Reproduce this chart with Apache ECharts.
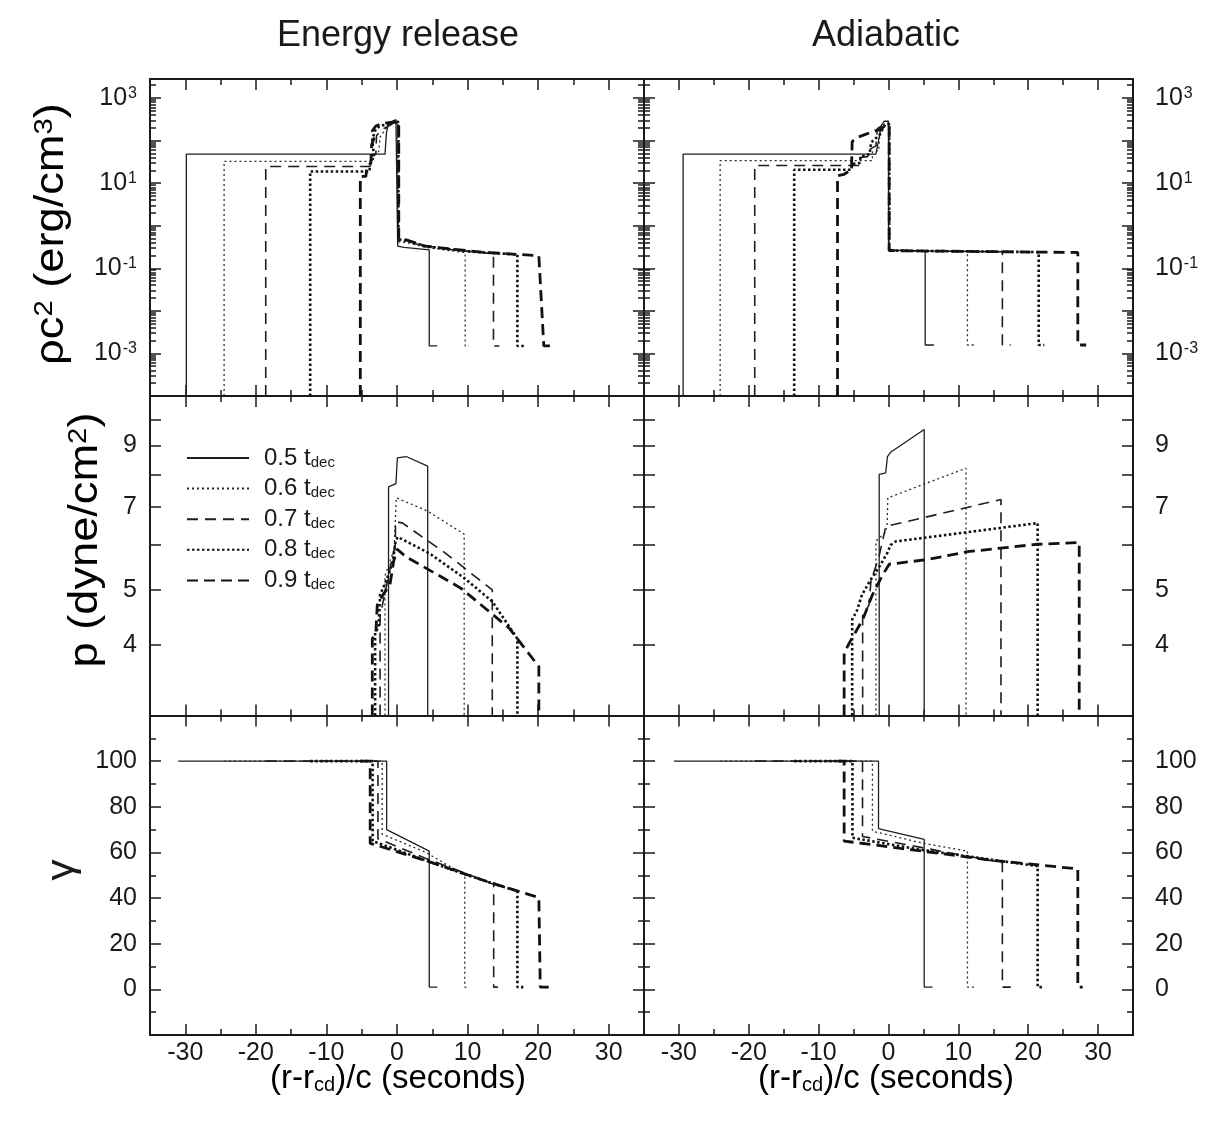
<!DOCTYPE html>
<html lang="en">
<head>
<meta charset="UTF-8">
<title>Energy release / Adiabatic profiles</title>
<script src="https://cdn.jsdelivr.net/npm/echarts@6/dist/echarts.min.js"></script>
<style>html,body{margin:0;padding:0;background:#fff}</style>
</head>
<body>
<div id="main" style="width:1207px;height:1130px"></div>
<script>
// curve names (fraction of t_dec)
var times = ['0.5', '0.6', '0.7', '0.8', '0.9'];

// tick values
var xMajor = [-30, -20, -10, 0, 10, 20, 30];
var xMinor = [-25, -15, -5, 5, 15, 25];
var rhoLabels = [1e-3, 1e-1, 1e1, 1e3];
var rhoMajor = [1e-3, 1e-2, 1e-1, 1, 1e1, 1e2, 1e3];
var pLabels = [4, 5, 7, 9];
var pMajor = [4, 5, 6, 7, 8, 9, 10];
var gammaLabels = [0, 20, 40, 60, 80, 100];
var gammaMinor = [-10, 10, 30, 50, 70, 90, 110];

// rho c^2, energy release  [x (s), erg/cm3]
var rhoEnergy = [
  [[-29.85,1e-4],[-29.85,48],[-1.7,48],[-1.5,150],[-1.2,258],[-0.15,310],[0.1,310],[0.1,0.33],[1,0.31],[4.57,0.27],[4.57,1.5e-3],[5.7,1.5e-3]],
  [[-24.5,1e-4],[-24.5,32.5],[-3.4,32.5],[-3.2,48],[-2.6,55],[-2.4,120],[-1.6,190],[-0.6,270],[0,280],[0.1,0.42],[1.5,0.4],[4,0.31],[9.66,0.234],[9.66,1.5e-3],[10.2,1.5e-3]],
  [[-18.6,1e-4],[-18.6,24.7],[-3.8,24.7],[-3.7,42],[-3.0,48],[-2.9,130],[-2.2,180],[-1.0,230],[-0.3,270],[0.15,270],[0.15,0.45],[1.5,0.44],[3,0.36],[8,0.27],[13.67,0.22],[13.67,1.5e-3],[14.5,1.5e-3]],
  [[-12.3,1e-4],[-12.3,18.8],[-3.9,18.8],[-3.8,30],[-3.3,45],[-3.5,110],[-3.0,190],[-2.4,220],[-1.4,240],[-0.4,275],[0.2,275],[0.2,0.48],[2,0.42],[4,0.33],[10,0.25],[17.06,0.21],[17.06,1.5e-3],[18.2,1.5e-3]],
  [[-5.2,1e-4],[-5.2,14.4],[-4.4,14.4],[-4.3,22],[-3.7,30],[-3.6,80],[-3.2,120],[-3.5,170],[-3.0,220],[-2.2,250],[-0.6,270],[0.25,270],[0.25,0.5],[1.2,0.47],[2.5,0.4],[4,0.33],[12,0.24],[20.1,0.197],[20.8,1.5e-3],[21.7,1.5e-3]]
];
// rho c^2, adiabatic
var rhoAdiabatic = [
  [[-29.4,1e-4],[-29.4,48],[-1.8,48],[-1.0,230],[-0.6,285],[0,285],[0,0.27],[5.25,0.25],[5.25,1.58e-3],[6.5,1.58e-3]],
  [[-24.1,1e-4],[-24.1,34],[-2.3,34],[-2.3,55],[-1.4,58],[-1.2,200],[-0.4,260],[0.05,260],[0.05,0.27],[11.3,0.25],[11.3,1.58e-3],[12.3,1.58e-3]],
  [[-19.15,1e-4],[-19.15,26],[-4.1,26],[-4.1,40],[-3.0,42],[-2.9,60],[-1.8,75],[-1.6,190],[-0.5,250],[0.05,250],[0.05,0.26],[16.3,0.245],[16.3,1.58e-3],[17.5,1.58e-3]],
  [[-13.5,1e-4],[-13.5,20.6],[-5.3,20.6],[-5.2,28],[-4.1,30],[-4,42],[-2.7,48],[-2.5,90],[-1.2,140],[-0.5,240],[0.1,240],[0.1,0.26],[21.5,0.24],[21.5,1.58e-3],[22.3,1.58e-3]],
  [[-7.3,1e-4],[-7.3,15],[-6.4,16],[-5.3,21],[-5.2,95],[-4.4,120],[-3.3,140],[-2.2,165],[-1.2,180],[-0.4,230],[0.1,230],[0.1,0.26],[27.1,0.235],[27.1,1.58e-3],[28.3,1.58e-3]]
];
// pressure, energy release  [x, dyne/cm2]
var pEnergy = [
  [[-1.2,3],[-1.2,7.6],[-0.15,7.7],[0.05,8.55],[1.3,8.6],[4.35,8.27],[4.35,3]],
  [[-1.7,3],[-1.7,5.3],[-0.4,5.9],[-0.1,7.27],[4.33,6.89],[9.52,6.27],[9.52,3]],
  [[-2.4,3],[-2.4,4.5],[-1.6,5.0],[-0.8,5.6],[-0.25,6.0],[-0.2,6.6],[0.8,6.56],[6.9,5.8],[13.5,5.0],[13.5,3]],
  [[-3.1,3],[-3.1,4.2],[-2.6,4.3],[-2.4,4.9],[-1.5,5.2],[-0.6,5.6],[-0.2,6.1],[0.1,6.2],[4.6,5.8],[9.5,5.25],[13.5,4.77],[17.06,4.1],[17.06,3]],
  [[-3.5,3],[-3.5,4.1],[-3.0,4.2],[-2.8,4.7],[-2.0,4.9],[-1.0,5.1],[-0.5,5.6],[0,5.9],[1.3,5.72],[9,5.04],[15.9,4.28],[20.1,3.66],[20.1,3]]
];
// pressure, adiabatic
var pAdiabatic = [
  [[-1.33,3],[-1.33,8.0],[-0.4,8.05],[-0.15,8.6],[0.3,8.75],[5.11,9.6],[5.11,3]],
  [[-1.8,3],[-1.8,6.1],[-0.5,6.3],[-0.2,6.5],[-0.1,7.27],[11.1,8.2],[11.1,3]],
  [[-3.7,3],[-3.7,4.5],[-2.8,4.7],[-2.5,5.2],[-1.4,5.7],[-0.6,6.3],[-0.4,6.47],[16.1,7.22],[16.1,3]],
  [[-5.2,3],[-5.2,4.43],[-4.5,4.6],[-3.8,4.9],[-2.6,5.2],[-1.3,5.5],[-0.2,5.8],[0.3,6.0],[1.05,6.09],[5.1,6.18],[21.35,6.56],[21.35,3]],
  [[-6.35,3],[-6.35,3.87],[-5.6,4.03],[-3.7,4.43],[-2.3,4.9],[-0.9,5.3],[0.1,5.55],[5.3,5.65],[11.3,5.84],[21.3,6.02],[27.3,6.06],[27.3,3]]
];
// Lorentz factor, energy release
var gammaEnergy = [
  [[-31,100],[-1.47,100],[-1.47,70],[4.57,60.6],[4.57,1],[5.7,1]],
  [[-24.5,100],[-2.1,100],[-2.1,68],[4.1,60],[9.6,50],[9.6,1],[10.2,1]],
  [[-18.6,100],[-2.7,100],[-2.7,66],[4,57.5],[9.6,51],[13.7,46],[13.7,1],[14.3,1]],
  [[-12.3,100],[-3.45,100],[-3.45,65],[4.5,56],[10,50],[17.06,43],[17.06,1],[17.9,1]],
  [[-5.2,100],[-3.8,100],[-3.8,64],[4.5,56],[13,47],[20.1,40.2],[20.3,1],[21.5,1]]
];
// Lorentz factor, adiabatic
var gammaAdiabatic = [
  [[-30.7,100],[-1.43,100],[-1.43,70.4],[5.11,65.7],[5.11,1],[6.3,1]],
  [[-24.1,100],[-2.3,100],[-2.3,69.3],[5,64],[11.3,60.6],[11.3,1],[12.3,1]],
  [[-19.15,100],[-3.72,100],[-3.72,67],[5,62],[16.3,55.5],[16.3,1],[17.5,1]],
  [[-13.5,100],[-5.16,100],[-5.16,66.4],[5,61],[21.35,54],[21.35,1],[22.3,1]],
  [[-7.3,100],[-6.35,100],[-6.35,65],[5,60.5],[15,56.5],[27.1,52.8],[27.1,1],[27.8,1]]
];

// log minor ticks 2..9 per decade
var rhoMinor = [];
for (var e = -4; e <= 3; e++) {
  for (var m = 2; m <= 9; m++) {
    var v = m * Math.pow(10, e);
    if (v < 2800) rhoMinor.push(v);
  }
}

var font = '"Liberation Sans", Arial, Helvetica, sans-serif';
var ink = '#1a1a1a';

var lineStyles = [
  {color: '#1e1e1e', width: 1.3, type: 'solid'},
  {color: '#2a2a2a', width: 1.3, type: [2, 3]},
  {color: '#1e1e1e', width: 1.6, type: [11, 7]},
  {color: '#111', width: 2.6, type: [2.5, 2.5]},
  {color: '#111', width: 2.8, type: [11, 6]}
];

var supRich = {
  b: {fontSize: 25, lineHeight: 25, fontFamily: font, color: ink, verticalAlign: 'bottom', padding: [6, 0, 0, 0]},
  s: {fontSize: 16, lineHeight: 16, fontFamily: font, color: ink, verticalAlign: 'top', padding: [0, 0, 0, 1]}
};
function expLabel(v) {
  return '{b|10}{s|' + Math.round(Math.log10(v)) + '}';
}
function plainLabel(v) {
  return '{b|' + v + '}';
}
var plainRich = {b: {fontSize: 25, fontFamily: font, color: ink}};

var rowAxis = [
  {type: 'log', min: 1e-4, max: 2800, major: rhoMajor, minor: rhoMinor, labels: rhoLabels, fmt: expLabel, rich: supRich},
  {type: 'log', min: 3, max: 11, major: pMajor, minor: null, labels: pLabels, fmt: plainLabel, rich: plainRich},
  {type: 'value', min: -20, max: 120, major: gammaLabels, minor: gammaMinor, labels: gammaLabels, fmt: plainLabel, rich: plainRich}
];
var panels = [rhoEnergy, rhoAdiabatic, pEnergy, pAdiabatic, gammaEnergy, gammaAdiabatic];

var colLeft = [150, 644], colWidth = [494, 489];
var rowTop = [79, 396, 715.5], rowHeight = [317, 319.5, 319.5];

var grids = [], xAxes = [], yAxes = [], series = [];

function xAxis(g, pos, vals, len, mainLine, showLabel) {
  return {
    gridIndex: g, type: 'value', min: -35, max: 35, position: pos,
    axisLine: {show: mainLine, onZero: false, lineStyle: {color: ink, width: 2}},
    axisTick: {show: true, inside: true, length: len, customValues: vals, lineStyle: {color: ink, width: 1.5}},
    axisLabel: {show: showLabel, customValues: xMajor, margin: 6, fontSize: 25, fontFamily: font, color: ink},
    splitLine: {show: false}
  };
}
function yAxis(g, cfg, pos, vals, len, mainLine, showLabel, margin) {
  var a = {
    gridIndex: g, type: cfg.type, min: cfg.min, max: cfg.max, position: pos,
    axisLine: {show: mainLine, onZero: false, lineStyle: {color: ink, width: 2}},
    axisTick: {show: !!vals, inside: true, length: len, customValues: vals || undefined, lineStyle: {color: ink, width: 1.5}},
    axisLabel: {show: showLabel, customValues: cfg.labels, margin: margin, formatter: cfg.fmt, rich: cfg.rich},
    splitLine: {show: false}, minorTick: {show: false}
  };
  if (cfg.type === 'log') a.logBase = 10;
  return a;
}

panels.forEach(function (curves, g) {
  var row = Math.floor(g / 2), col = g % 2;
  var cfg = rowAxis[row];
  grids.push({left: colLeft[col], top: rowTop[row], width: colWidth[col], height: rowHeight[row], containLabel: false, outerBoundsMode: 'none'});
  xAxes.push(xAxis(g, 'bottom', xMajor, 11, true, row === 2));
  xAxes.push(xAxis(g, 'bottom', xMinor, 6, false, false));
  xAxes.push(xAxis(g, 'top', xMajor, 11, true, false));
  xAxes.push(xAxis(g, 'top', xMinor, 6, false, false));
  yAxes.push(yAxis(g, cfg, 'left', cfg.major, 11, true, col === 0, 13));
  yAxes.push(yAxis(g, cfg, 'left', cfg.minor, 6, false, false, 13));
  yAxes.push(yAxis(g, cfg, 'right', cfg.major, 11, true, col === 1, 22));
  yAxes.push(yAxis(g, cfg, 'right', cfg.minor, 6, false, false, 22));
  curves.forEach(function (pts, k) {
    series.push({
      type: 'line', name: times[k], xAxisIndex: 4 * g, yAxisIndex: 4 * g,
      data: pts, symbol: 'none', showSymbol: false, silent: true, clip: true,
      lineStyle: lineStyles[k], itemStyle: {color: lineStyles[k].color}
    });
  });
});

var titleFont = {fontFamily: font, fill: ink};
var axisTitleRich = {
  m: {fontSize: 40, lineHeight: 40, fontFamily: font, color: ink, verticalAlign: 'bottom', padding: [22, 0, 0, 0]},
  u: {fontSize: 26, lineHeight: 26, fontFamily: font, color: ink, verticalAlign: 'top'}
};
var xTitleRich = {
  m: {fontSize: 33, lineHeight: 33, fontFamily: font, color: ink, verticalAlign: 'top', padding: [0, 0, 8, 0]},
  d: {fontSize: 20, lineHeight: 20, fontFamily: font, color: ink, verticalAlign: 'bottom'}
};

var chart = echarts.init(document.getElementById('main'));
chart.setOption({
  backgroundColor: '#fff',
  animation: false,
  grid: grids,
  xAxis: xAxes,
  yAxis: yAxes,
  legend: {
    data: times, orient: 'vertical', left: 186, top: 446, padding: 0,
    itemWidth: 62, itemHeight: 14, itemGap: 0.6, selectedMode: false,
    itemStyle: {opacity: 0},
    formatter: function (n) { return '{a|' + n + ' t}{d|dec}'; },
    textStyle: {
      rich: {
        a: {fontSize: 24, lineHeight: 24, fontFamily: font, color: ink, verticalAlign: 'top', padding: [0, 0, 6, 10]},
        d: {fontSize: 15, lineHeight: 15, fontFamily: font, color: ink, verticalAlign: 'bottom'}
      }
    }
  },
  graphic: [
    {type: 'text', x: 398, y: 36, style: Object.assign({text: 'Energy release', fontSize: 36, align: 'center', verticalAlign: 'middle'}, titleFont)},
    {type: 'text', x: 886, y: 36, style: Object.assign({text: 'Adiabatic', fontSize: 36, align: 'center', verticalAlign: 'middle'}, titleFont)},
    {type: 'text', x: 398, y: 1079, style: {text: '{m|(r-r}{d|cd}{m|)/c (seconds)}', align: 'center', verticalAlign: 'middle', rich: xTitleRich}},
    {type: 'text', x: 886, y: 1079, style: {text: '{m|(r-r}{d|cd}{m|)/c (seconds)}', align: 'center', verticalAlign: 'middle', rich: xTitleRich}},
    {type: 'text', x: 52, y: 234, rotation: Math.PI / 2, scaleX: 1.13,
      style: {text: '{m|ρc}{u|2}{m| (erg/cm}{u|3}{m|)}', align: 'center', verticalAlign: 'middle', rich: axisTitleRich}},
    {type: 'text', x: 86, y: 540, rotation: Math.PI / 2, scaleX: 1.13,
      style: {text: '{m|p (dyne/cm}{u|2}{m|)}', align: 'center', verticalAlign: 'middle', rich: axisTitleRich}},
    {type: 'text', x: 63, y: 870, rotation: Math.PI / 2, scaleX: 1.13,
      style: Object.assign({text: 'γ', fontSize: 38, align: 'center', verticalAlign: 'middle'}, titleFont)}
  ],
  series: series
});
</script>
</body>
</html>
